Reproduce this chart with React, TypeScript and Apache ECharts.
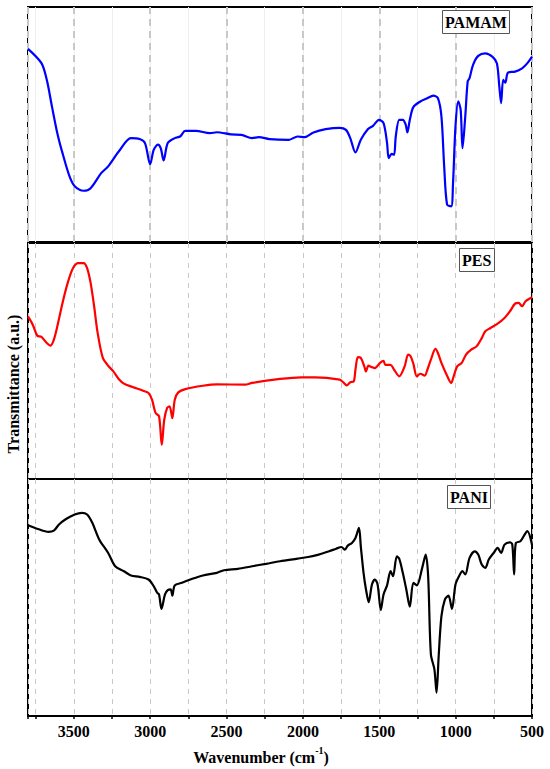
import React, { useEffect, useRef } from "react";
import * as echarts from "echarts";

const PAMAM_WN = [3800,3712,3677,3643,3608,3574,3528,3494,3436,3390,3321,3275,3206,3126,3069,3034,3000,2977,2949,2931,2912,2885,2839,2804,2770,2701,2609,2563,2471,2402,2333,2288,2219,2092,2035,1989,1931,1851,1759,1718,1690,1656,1621,1575,1541,1502,1472,1449,1438,1419,1403,1392,1369,1346,1327,1316,1300,1277,1231,1185,1146,1116,1093,1075,1056,1029,1017,1001,983,967,955,937,921,909,886,852,806,760,730,714,702,689,675,657,611,565,530,500];
const PAMAM_T = [82.2,76.1,69.0,57.6,46.3,37.8,27.9,23.7,21.8,22.9,29.3,32.2,38.5,44.2,43.8,42.1,33.1,39.2,41.4,39.9,34.7,42.1,44.2,44.9,47.3,47.3,46.3,46.7,45.8,45.6,44.2,44.6,43.8,43.5,44.9,44.6,46.6,48.0,48.6,47.7,44.2,38.1,43.5,48.0,49.4,52.0,50.6,42.1,35.7,37.5,37.1,44.9,52.0,52.0,49.9,46.6,52.0,57.4,59.8,61.2,62.3,61.2,53.4,32.2,15.9,15.2,25.1,49.2,59.8,56.2,39.9,53.4,68.3,69.7,75.4,79.2,80.3,78.9,76.1,66.1,59.1,69.0,67.8,72.1,72.5,73.9,76.1,78.9];

const PES_WN = [3800,3769,3739,3712,3677,3654,3631,3608,3574,3540,3505,3471,3436,3413,3390,3367,3344,3310,3275,3241,3206,3172,3115,3046,3011,2988,2965,2942,2924,2908,2889,2873,2855,2839,2816,2770,2655,2563,2379,2333,2150,2012,1920,1759,1736,1713,1690,1667,1656,1640,1621,1598,1587,1571,1552,1529,1495,1472,1461,1426,1403,1369,1334,1311,1295,1277,1254,1231,1203,1185,1162,1132,1116,1093,1059,1029,1013,990,960,932,898,863,829,806,771,725,680,645,611,588,565,542,500];
const PES_T = [68.9,65.4,60.7,60.2,57.6,56.5,59.0,64.7,74.6,83.1,89.4,91.5,91.5,89.4,83.1,73.2,61.9,51.3,48.0,45.6,42.4,40.4,39.0,37.4,36.4,33.6,28.0,26.6,14.5,25.1,30.1,30.8,25.8,33.6,36.7,38.1,39.5,40.1,40.0,40.7,42.4,43.1,43.1,42.1,41.0,39.7,41.0,41.4,46.3,51.6,51.3,47.7,45.6,48.0,47.5,47.0,49.2,50.1,48.4,48.4,46.3,43.5,47.7,52.7,52.0,48.9,43.5,44.6,43.8,46.3,50.6,55.1,53.4,49.2,44.2,40.7,43.5,47.7,49.2,52.7,54.8,56.2,59.7,62.6,64.0,65.8,68.2,71.0,74.3,74.6,73.2,75.3,77.0];

const PANI_WN = [3800,3735,3666,3631,3597,3551,3494,3448,3413,3379,3333,3275,3229,3172,3126,3069,3011,2977,2954,2942,2926,2903,2885,2866,2855,2839,2793,2724,2655,2563,2517,2425,2333,2242,2150,2035,1966,1897,1828,1782,1748,1725,1706,1679,1656,1633,1621,1603,1587,1569,1548,1529,1511,1490,1472,1449,1426,1410,1385,1369,1346,1323,1300,1277,1254,1219,1196,1180,1162,1139,1125,1111,1093,1070,1047,1024,1001,978,955,937,909,875,852,829,806,783,748,725,702,680,645,629,617,606,576,542,530,500];
const PANI_T = [80.5,78.9,77.7,78.2,80.8,83.1,85.0,85.7,85.0,81.5,74.4,68.8,63.2,61.1,59.3,58.7,57.6,54.8,52.0,51.3,45.2,51.3,53.1,53.4,50.8,55.1,56.2,57.9,59.3,60.4,61.5,62.1,63.2,64.2,65.3,66.4,67.1,68.1,69.5,70.6,71.3,70.2,71.9,73.0,75.1,79.4,71.6,60.4,53.4,48.0,55.5,57.6,55.5,44.7,51.3,55.1,61.1,59.0,67.4,66.3,60.4,53.4,46.1,56.2,55.1,62.5,68.1,59.0,26.0,19.7,9.8,25.3,42.1,49.2,50.8,45.2,55.5,59.0,61.1,59.7,66.7,69.5,68.1,63.9,62.5,66.0,69.1,70.9,68.8,72.3,73.3,72.3,59.7,73.0,73.7,77.2,78.0,72.3];

const SAMPLE_NAMES = ["PAMAM", "PES", "PANI"];
const X_MIN = 500;
const X_MAX = 3800;
const Y_TITLE = "Transmittance (a.u.)";

const FONT = '"Liberation Serif", "Times New Roman", Times, serif';

function zip(xs: number[], ys: number[]) {
  const n = Math.min(xs.length, ys.length);
  const out: number[][] = [];
  for (let i = 0; i < n; i++) out.push([xs[i], ys[i]]);
  return out;
}

export default function App() {
  const ref = useRef<HTMLDivElement>(null);
  useEffect(() => {
    document.body.style.margin = "0";
    if (!ref.current) return;
    const chart = echarts.init(ref.current, undefined, { renderer: "svg" });
    const gridBase = { left: 28, width: 504, show: true, borderColor: "#000", borderWidth: 2, backgroundColor: "transparent" };
    const hiddenY = (i: number) => ({
      type: "value", gridIndex: i, min: 0, max: 100,
      axisLine: { show: false }, axisTick: { show: false }, axisLabel: { show: false }, splitLine: { show: false },
    });
    const baseX = (i: number, interval: number) => ({
      type: "value", gridIndex: i, min: X_MIN, max: X_MAX, inverse: true, interval,
      axisLine: { show: false }, axisTick: { show: false }, axisLabel: { show: false },
    });
    const dashLight = { show: true, lineStyle: { color: "#c8c8c8", width: 1, type: [5, 5] } };
    const boxTitle = (text: string, left: number, top: number) => ({
      text, left, top,
      padding: [3, 3, 3, 3],
      borderColor: "#555", borderWidth: 1, backgroundColor: "#fff",
      textStyle: { fontFamily: FONT, fontWeight: "bold", fontSize: 16, color: "#000", lineHeight: 18 },
    });
    chart.setOption({
      animation: false,
      backgroundColor: "#fff",
      title: [
        boxTitle(SAMPLE_NAMES[0], 442, 10),
        boxTitle(SAMPLE_NAMES[1], 459, 248),
        boxTitle(SAMPLE_NAMES[2], 447, 485),
      ],
      grid: [
        { ...gridBase, top: 7, height: 235 },
        { ...gridBase, top: 243, height: 236 },
        { ...gridBase, top: 479, height: 237 },
      ],
      xAxis: [
        { ...baseX(0, 250), splitLine: { show: true, lineStyle: { color: "#eeeeee", width: 1 } } },
        { ...baseX(0, 500), splitLine: { show: true, lineStyle: { color: "#c8c8c8", width: 2, type: [7, 5] } } },
        { ...baseX(1, 250), splitLine: dashLight },
        {
          ...baseX(2, 250),
          splitLine: dashLight,
          axisTick: { show: true, length: 3, inside: false, lineStyle: { color: "#000", width: 1.5 } },
          axisLabel: {
            show: true, margin: 7, color: "#000", fontFamily: FONT, fontWeight: "bold", fontSize: 16,
            formatter: (v: number) => (v % 500 === 0 ? String(v) : ""),
          },
        },
      ],
      yAxis: [hiddenY(0), hiddenY(1), hiddenY(2)],
      graphic: [
        {
          type: "text", x: 13, y: 384, rotation: Math.PI / 2,
          style: {
            text: Y_TITLE, font: `bold 16px ${FONT}`, fill: "#000",
            textAlign: "center", textVerticalAlign: "middle", align: "center", verticalAlign: "middle",
          },
        },
        {
          type: "text", x: 261, y: 755,
          style: {
            text: "{a|Wavenumber (cm}{b|-1}{a|)}",
            textAlign: "center", textVerticalAlign: "middle", align: "center", verticalAlign: "middle",
            rich: {
              a: { fontFamily: FONT, fontWeight: "bold", fontSize: 16, lineHeight: 20, fill: "#000", verticalAlign: "bottom" },
              b: { fontFamily: FONT, fontWeight: "bold", fontSize: 10, lineHeight: 20, fill: "#000", verticalAlign: "top" },
            },
          },
        },
      ],
      series: [
        {
          name: SAMPLE_NAMES[0], type: "line", xAxisIndex: 0, yAxisIndex: 0, data: zip(PAMAM_WN, PAMAM_T),
          showSymbol: false, smooth: 0.3, lineStyle: { color: "#0000ff", width: 2.2 }, silent: true, z: 5,
        },
        {
          name: SAMPLE_NAMES[1], type: "line", xAxisIndex: 2, yAxisIndex: 1, data: zip(PES_WN, PES_T),
          showSymbol: false, smooth: 0.3, lineStyle: { color: "#ff0000", width: 2.2 }, silent: true, z: 5,
        },
        {
          name: SAMPLE_NAMES[2], type: "line", xAxisIndex: 3, yAxisIndex: 2, data: zip(PANI_WN, PANI_T),
          showSymbol: false, smooth: 0.3, lineStyle: { color: "#000000", width: 2.2 }, silent: true, z: 5,
        },
      ],
    });
    return () => chart.dispose();
  }, []);
  return <div ref={ref} style={{ width: 550, height: 769 }} />;
}
